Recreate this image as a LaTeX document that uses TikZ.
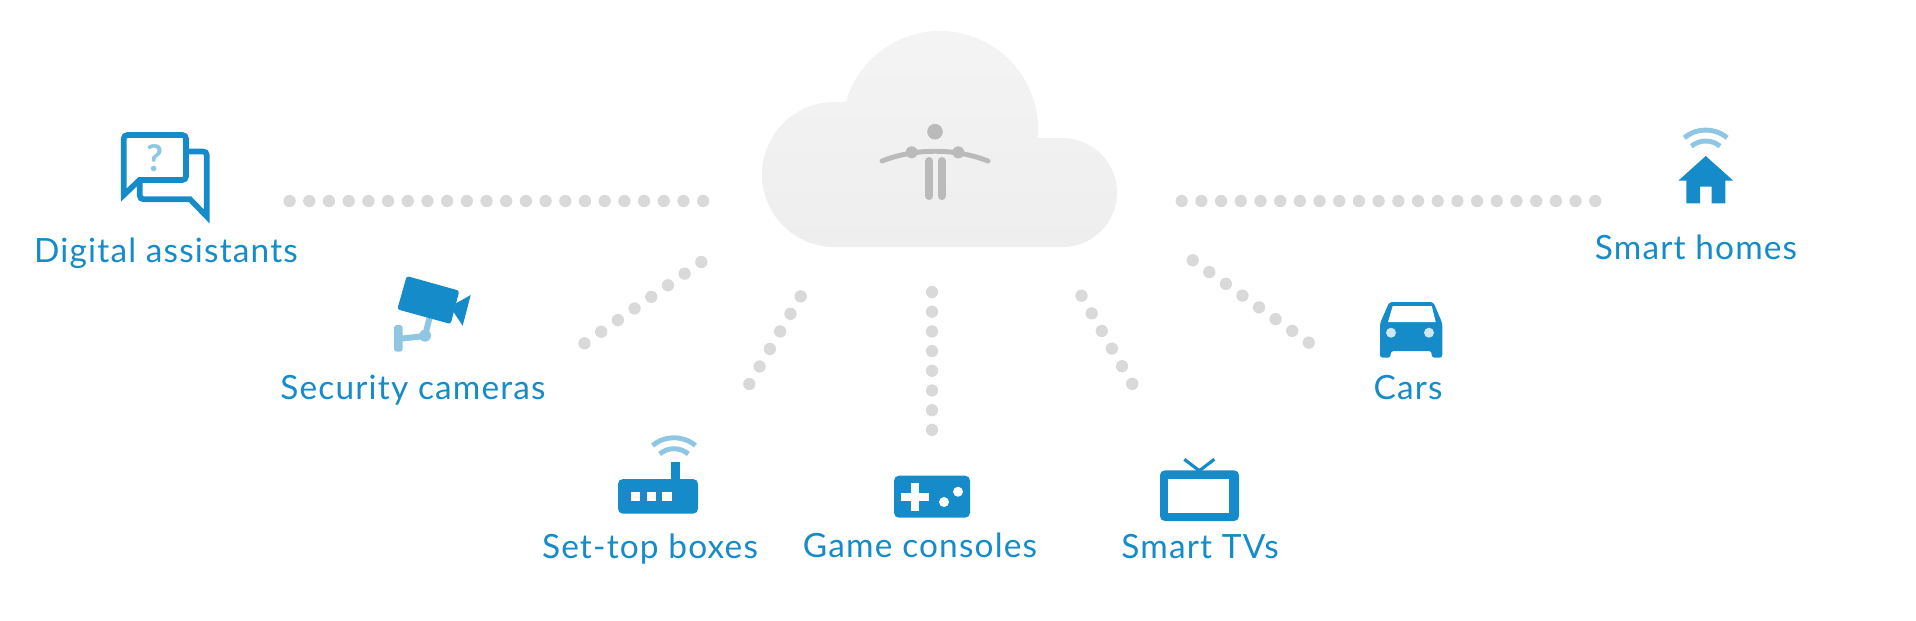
\documentclass[tikz,border=0pt]{standalone}
\usepackage{fontspec}
\setmainfont{Lato}[LetterSpace=3.5]
\definecolor{iconblue}{HTML}{158CC9}
\definecolor{paleblue}{HTML}{8EC6E4}
\definecolor{lampblue}{HTML}{CFE6F4}
\definecolor{dotgrey}{HTML}{D9D9D9}
\definecolor{mangrey}{HTML}{BABABA}
\definecolor{cloudtop}{HTML}{F4F4F4}
\definecolor{cloudlow}{HTML}{EEEEEE}
\tikzstyle{caption} = [anchor=base, inner sep=0pt, text=iconblue, font=\fontsize{9.5pt}{11pt}\selectfont]
\tikzstyle{dotrow} = [dotgrey, line width=3.5pt, line cap=round, dash pattern=on 0pt off 5.6pt]
\tikzstyle{dotdiag} = [dotgrey, line width=3.5pt, line cap=round, dash pattern=on 0pt off 5.78pt]
\tikzstyle{block} = [fill=iconblue, rounded corners=1.4pt]
\tikzstyle{pale} = [paleblue, line width=1.7pt]
\tikzstyle{bubble} = [iconblue, line width=1.6pt, miter limit=12]
\tikzstyle{wifiarc} = [paleblue, line width=1.4pt]
\tikzstyle{manline} = [mangrey, line cap=round]
\tikzset{wifi/.pic={
    \draw [wifiarc] (230:33.3) arc (230:310:33.3);
    \draw [wifiarc] (230:22.3) arc (230:310:22.3);
}}

\begin{document}
\begin{tikzpicture}[x=0.01cm, y=-0.01cm]
    \useasboundingbox (0,0) rectangle (1916,620);

    % cloud
    \shade [top color=cloudtop, bottom color=cloudlow] (834.5,247) arc (90:270:72.5) -- (845.8,102)
        arc (196:365.3:98) -- (1062.5,138) arc (-90:90:54.5) -- cycle;
    \fill [mangrey] (935,131.7) circle (7.8);
    \draw [manline, line width=1.4pt] (882,161) .. controls (915,148) and (955,148) .. (988,161);
    \fill [mangrey] (911.7,152.3) circle (6);
    \fill [mangrey] (958.3,152.3) circle (6);
    \draw [manline, line width=2.3pt] (929.3,161) -- (929.3,196);
    \draw [manline, line width=2.3pt] (941.7,161) -- (941.7,196);

    % labels
    \node (digital) [caption] at (166,262) {Digital assistants};
    \node (security) [caption] at (413,399) {Security cameras};
    \node (settop) [caption] at (650,558) {Set-top boxes};
    \node (game) [caption] at (920,557) {Game consoles};
    \node (tvs) [caption] at (1200,558) {Smart TVs};
    \node (cars) [caption] at (1408,399) {Cars};
    \node (homes) [caption] at (1696,259) {Smart homes};

    % dotted spokes
    \coordinate (leftA) at (289.6,201);
    \coordinate (leftB) at (704,201);
    \coordinate (rightA) at (1181.7,201);
    \coordinate (rightB) at (1596,201);
    \coordinate (camA) at (701.3,262);
    \coordinate (camB) at (584,343.7);
    \coordinate (boxA) at (800.7,296.3);
    \coordinate (boxB) at (749.3,384);
    \coordinate (padA) at (932,292);
    \coordinate (padB) at (932,430.5);
    \coordinate (tvA) at (1081.5,295.7);
    \coordinate (tvB) at (1132.3,384);
    \coordinate (carA) at (1192.7,260.3);
    \coordinate (carB) at (1309.7,343.3);
    \draw [dotrow] (leftA) -- (leftB);
    \draw [dotrow] (rightA) -- (rightB);
    \draw [dotdiag] (camA) -- (camB);
    \draw [dotdiag] (boxA) -- (boxB);
    \draw [dotrow] (padA) -- (padB);
    \draw [dotdiag] (tvA) -- (tvB);
    \draw [dotdiag] (carA) -- (carB);

    % digital assistant
    \draw [bubble] (123.8,195) [rounded corners=1pt] -- (123.8,135) -- (186,135) -- (186,180)
        [sharp corners] -- (139.5,180) -- cycle;
    \draw [bubble] (188,151.5) [rounded corners=1pt] -- (206.8,151.5) [sharp corners] -- (206.8,216.5)
        -- (190,199.2) [rounded corners=1pt] -- (139.8,199.2) -- (139.8,182);
    \node (quest) [inner sep=0pt, text=paleblue, font=\fontsize{10.5pt}{12pt}\selectfont\bfseries] at (155,158.5) {?};

    % security camera
    \fill [paleblue, rounded corners=0.8pt] (394,325) -- (402.7,325) -- (402.7,351.7) -- (394,351.7) -- cycle;
    \draw [pale] (402,338.5) -- (425,336) -- (429.5,318);
    \fill [paleblue] (425,335.7) circle (6);
    \fill [block, rounded corners=0.7pt] (406.7,276) -- (459.3,290.7) -- (450.7,324) -- (397.3,309.3) -- cycle;
    \fill [iconblue] (456,303.3) -- (470.7,295) -- (462.7,325.7) -- (453.3,311.7) -- cycle;

    % set-top box
    \pic at (674,471) {wifi};
    \fill [iconblue] (671.3,461.7) rectangle (680,480);
    \fill [block] (618,479) rectangle (698,513.7);
    \fill [white] (631,492) rectangle (640.3,501);
    \fill [white] (646.7,492) rectangle (656,501);
    \fill [white] (662.3,492) rectangle (671.7,501);

    % game console
    \fill [block] (894,475.7) rectangle (970,517.7);
    \fill [white] (901,493) rectangle (928.7,501);
    \fill [white] (910.7,482.7) rectangle (918.7,510.7);
    \fill [white] (944,502) circle (5);
    \fill [white] (958,491.7) circle (5);

    % smart tv
    \draw [iconblue, line width=0.9pt] (1184.3,459.3) -- (1199.3,470.7) -- (1214.3,459.3);
    \fill [block] (1160,470.3) rectangle (1239,521);
    \fill [white] (1168.3,478.7) rectangle (1229,513);

    % car
    \fill [iconblue, rounded corners=0.8pt] (1380,323.3) -- (1389.3,302) -- (1433.3,302) -- (1442.3,323.3) -- (1442.3,357.7)
        -- (1431.7,357.7) -- (1431.7,351) -- (1390.7,351) -- (1390.7,357.7) -- (1380,357.7) -- cycle;
    \fill [white] (1388,322) -- (1392.7,306) -- (1431.7,306) -- (1435.7,322) -- cycle;
    \fill [lampblue] (1391,332.7) circle (5);
    \fill [lampblue] (1429,332.7) circle (5);

    % smart home
    \pic at (1705.7,163.3) {wifi};
    \fill [iconblue] (1705.7,156) -- (1733.3,180.7) -- (1725.3,180.7) -- (1725.3,203.3) -- (1711.7,203.3) -- (1711.7,186.7)
        -- (1700,186.7) -- (1700,203.3) -- (1686.3,203.3) -- (1686.3,180.7) -- (1678.3,180.7) -- cycle;
\end{tikzpicture}
\end{document}
